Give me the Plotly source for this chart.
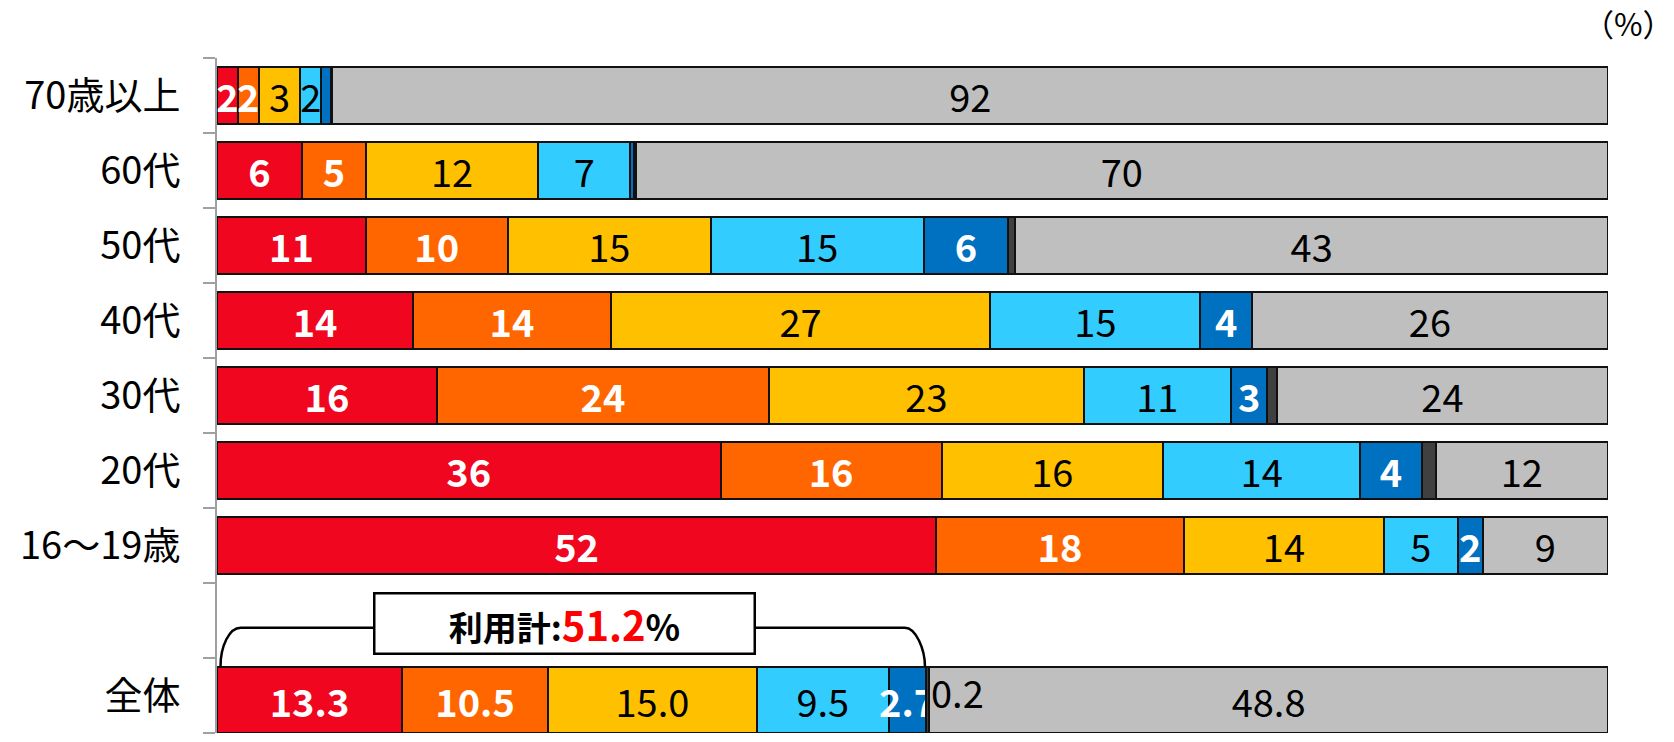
import math
import plotly.graph_objects as go

# ---- data (top-to-bottom rows) ----
categories = ["70歳以上", "60代", "50代", "40代", "30代", "20代", "16〜19歳", "全体"]
total_label = "全体"
blank_row = " "

red_vals = [1.5, 6.1, 10.7, 14.1, 15.8, 36.2, 51.7, 13.3]
orange_vals = [1.5, 4.6, 10.2, 14.2, 23.9, 15.9, 17.8, 10.5]
yellow_vals = [3.0, 12.4, 14.6, 27.3, 22.6, 15.9, 14.4, 15.0]
lightblue_vals = [1.5, 6.6, 15.3, 15.1, 10.6, 14.2, 5.3, 9.5]
darkblue_vals = [0.7, 0.3, 6.1, 3.7, 2.6, 4.4, 1.8, 2.7]
darkgray_vals = [0.1, 0.1, 0.5, 0.0, 0.7, 1.0, 0.0, 0.2]
gray_vals = [91.7, 69.9, 42.6, 25.6, 23.8, 12.4, 9.0, 48.8]

usage_total = 51.2
unit_label = "（%）"

FONT = "Noto Sans CJK JP"
FS = 38

series = [
    (red_vals, "#F0061E", "white", "bold", True),
    (orange_vals, "#FF6600", "white", "bold", True),
    (yellow_vals, "#FFC000", "black", "normal", True),
    (lightblue_vals, "#33CCFF", "black", "normal", True),
    (darkblue_vals, "#0070C0", "white", "bold", True),
    (darkgray_vals, "#404040", "black", "normal", False),
    (gray_vals, "#BFBFBF", "black", "normal", True),
]


def fmt(v, cat):
    if cat == total_label:
        return f"{v:.1f}"
    return str(int(math.floor(v + 0.5)))


widths = [0.88 if c == total_label else 0.75 for c in categories]
offsets = [-0.5 if c == total_label else -0.375 for c in categories]

fig = go.Figure()
for vals, color, tcolor, weight, show in series:
    texts = []
    for v, c in zip(vals, categories):
        texts.append(fmt(v, c) if (show and v >= 1.5) else "")
    fig.add_trace(go.Bar(
        x=vals, y=categories, orientation="h",
        width=widths, offset=offsets,
        marker=dict(color=color, line=dict(color="#111111", width=2)),
        text=texts, textposition="inside", insidetextanchor="middle",
        textangle=0,
        textfont=dict(family=FONT, size=FS, color=tcolor, weight=weight),
        showlegend=False, hoverinfo="skip", cliponaxis=False,
    ))

# dummy trace to register the blank row
fig.add_trace(go.Scatter(x=[None], y=[blank_row], mode="markers",
                         showlegend=False, hoverinfo="skip"))

cat_order = [total_label, blank_row] + [c for c in reversed(categories) if c != total_label]
n_rows = len(cat_order)

# ---- bracket over 全体 usage ----
ti = categories.index(total_label)
use_end = red_vals[ti] + orange_vals[ti] + yellow_vals[ti] + lightblue_vals[ti] + darkblue_vals[ti]
x0 = 0.25
x1 = use_end - 0.1
dx = 1.45
yb = (0.38 + 0.5) / n_rows
yl = (0.904 + 0.5) / n_rows
path = (f"M {x0},{yb} C {x0},{yb + 0.55*(yl-yb)} {x0 + 0.45*dx},{yl} {x0 + dx},{yl} "
        f"L {x1 - dx},{yl} C {x1 - 0.45*dx},{yl} {x1},{yl - 0.55*(yl-yb)} {x1},{yb}")
fig.add_shape(type="path", path=path, xref="x", yref="paper",
              line=dict(color="black", width=2.5), layer="above")

fig.add_annotation(
    x=25.0, y=(0.962 + 0.5) / n_rows, xref="x", yref="paper",
    text=(f"利用計:<span style='color:#FF0000;font-size:40px'>{usage_total:.1f}</span>"
          f"<span style='font-size:36px'>%</span>"),
    showarrow=False, font=dict(family=FONT, size=34, color="black", weight="bold"),
    bgcolor="white", bordercolor="black", borderwidth=2.5, borderpad=0,
    width=378, height=58, xanchor="center", yanchor="middle",
)

# 0.2 label outside the thin segment
fig.add_annotation(
    x=use_end + darkgray_vals[ti], y=total_label, xref="x", yref="y",
    yshift=4,
    text=f"{darkgray_vals[ti]:.1f}", showarrow=False, xanchor="left", yanchor="middle",
    font=dict(family=FONT, size=FS, color="black"),
)

fig.add_annotation(
    x=1.015, y=1.053, xref="paper", yref="paper", text=unit_label, showarrow=False,
    font=dict(family=FONT, size=31, color="black"), xanchor="center", yanchor="middle",
)

fig.update_layout(
    barmode="stack",
    width=1674, height=742,
    margin=dict(l=217, r=66, t=58, b=9),
    paper_bgcolor="white", plot_bgcolor="white",
    uniformtext=dict(mode="show", minsize=FS),
    xaxis=dict(range=[0, 100.001], visible=False, fixedrange=True),
    yaxis=dict(
        type="category", categoryorder="array", categoryarray=cat_order,
        range=[-0.5, n_rows - 0.5],
        showline=True, linecolor="#A0A0A0", linewidth=2,
        ticks="outside", tickson="boundaries", ticklen=12, tickcolor="#A0A0A0", tickwidth=2,
        tickfont=dict(family=FONT, size=FS, color="black"),
        ticklabelstandoff=27,
        showgrid=False, zeroline=False, fixedrange=True,
    ),
    font=dict(family=FONT),
)

fig.write_html("out.html")
